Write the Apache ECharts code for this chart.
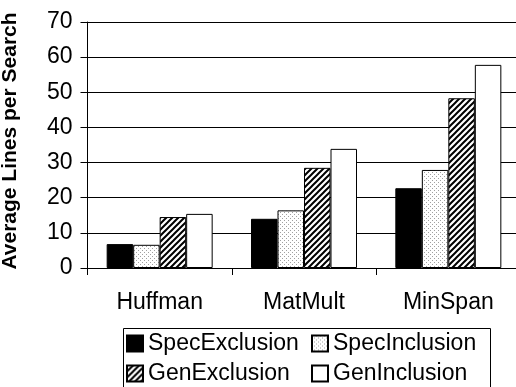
<!DOCTYPE html>
<html>
<head>
<meta charset="utf-8">
<script src="https://cdn.jsdelivr.net/npm/echarts@6/dist/echarts.min.js"></script>
<style>
html,body{margin:0;padding:0;background:#fff;}
#chart{width:516px;height:387px;}
</style>
</head>
<body>
<div id="chart"></div>
<script>
const categories = ['Huffman', 'MatMult', 'MinSpan'];
const specExclusion = [6.8, 14.0, 22.7];
const specInclusion = [6.6, 16.4, 27.9];
const genExclusion = [14.5, 28.5, 48.3];
const genInclusion = [15.4, 33.9, 57.8];
const yTicks = [0, 10, 20, 30, 40, 50, 60, 70];
const legendCol1 = ['SpecExclusion', 'GenExclusion'];
const legendCol2 = ['SpecInclusion', 'GenInclusion'];

function dotPattern() {
  const c = document.createElement('canvas');
  c.width = 4; c.height = 4;
  const g = c.getContext('2d');
  g.fillStyle = '#fff'; g.fillRect(0, 0, 4, 4);
  g.fillStyle = '#a0a0a0';
  g.fillRect(0, 0, 1, 1);
  g.fillRect(2, 2, 1, 1);
  return c;
}
function hatchPattern() {
  const s = 6;
  const c = document.createElement('canvas');
  c.width = s; c.height = s;
  const g = c.getContext('2d');
  g.fillStyle = '#fff'; g.fillRect(0, 0, s, s);
  g.strokeStyle = '#000'; g.lineWidth = 2;
  g.beginPath();
  g.moveTo(-1, s + 1); g.lineTo(s + 1, -1);
  g.moveTo(-1, 1); g.lineTo(1, -1);
  g.moveTo(s - 1, s + 1); g.lineTo(s + 1, s - 1);
  g.stroke();
  return c;
}

const FONT = "'Liberation Sans', Arial, sans-serif";
const chart = echarts.init(document.getElementById('chart'), null, {renderer: 'canvas'});

function bar(name, data, color) {
  return {
    name: name, type: 'bar', data: data,
    barWidth: 26.5, barGap: '0%',
    itemStyle: {color: color, borderColor: '#000', borderWidth: 1},
    emphasis: {disabled: true}
  };
}
function legendCol(data, left) {
  return {
    orient: 'vertical',
    left: left, top: 332,
    padding: 0,
    itemGap: 7,
    icon: 'rect',
    itemWidth: 16, itemHeight: 16,
    selectedMode: false,
    textStyle: {fontFamily: FONT, fontSize: 23, color: '#000'},
    data: data
  };
}

chart.setOption({
  animation: false,
  backgroundColor: '#fff',
  textStyle: {fontFamily: FONT},
  grid: {left: 87.5, top: 22, width: 433, height: 246, containLabel: false, outerBoundsMode: 'none'},
  graphic: [{
    type: 'rect', left: 121, top: 326,
    shape: {width: 367, height: 60},
    style: {fill: 'none', stroke: '#000', lineWidth: 1},
    silent: true
  }],
  legend: [legendCol(legendCol1, 126), legendCol(legendCol2, 311)],
  xAxis: {
    type: 'category', data: categories,
    axisLine: {lineStyle: {color: '#000', width: 1}},
    axisTick: {show: true, length: 7, lineStyle: {color: '#000'}},
    axisLabel: {fontFamily: FONT, fontSize: 23, color: '#000', margin: 23},
    splitLine: {show: false}
  },
  yAxis: {
    type: 'value', min: 0, max: 70, interval: 10,
    name: 'Average Lines per Search',
    nameLocation: 'middle', nameRotate: 90, nameGap: 67,
    nameTextStyle: {fontFamily: FONT, fontSize: 21, fontWeight: 'bold', color: '#000', padding: [0, 0, 0, 8]},
    axisLine: {show: true, lineStyle: {color: '#000', width: 1}},
    axisTick: {show: true, length: 7, lineStyle: {color: '#000'}},
    axisLabel: {fontFamily: FONT, fontSize: 23, color: '#000', margin: 15,
      formatter: function (v) { return yTicks.indexOf(v) >= 0 ? String(v) : ''; }},
    splitLine: {show: true, lineStyle: {color: '#000', width: 1}}
  },
  series: [
    bar('SpecExclusion', specExclusion, '#000'),
    bar('SpecInclusion', specInclusion, {image: dotPattern(), repeat: 'repeat'}),
    bar('GenExclusion', genExclusion, {image: hatchPattern(), repeat: 'repeat'}),
    bar('GenInclusion', genInclusion, '#fff')
  ]
});
</script>
</body>
</html>
